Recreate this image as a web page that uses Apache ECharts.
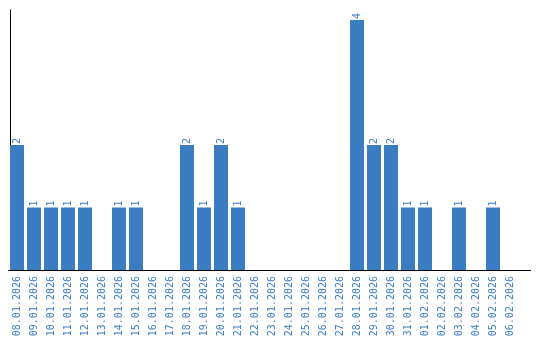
<!DOCTYPE html>
<html>
<head>
<meta charset="utf-8">
<script src="https://cdn.jsdelivr.net/npm/echarts@6/dist/echarts.min.js"></script>
<style>html,body{margin:0;padding:0;background:#fff}#c{width:540px;height:340px}</style>
</head>
<body>
<div id="c"></div>
<script>
var categories = ["08.01.2026","09.01.2026","10.01.2026","11.01.2026","12.01.2026","13.01.2026","14.01.2026","15.01.2026","16.01.2026","17.01.2026","18.01.2026","19.01.2026","20.01.2026","21.01.2026","22.01.2026","23.01.2026","24.01.2026","25.01.2026","26.01.2026","27.01.2026","28.01.2026","29.01.2026","30.01.2026","31.01.2026","01.02.2026","02.02.2026","03.02.2026","04.02.2026","05.02.2026","06.02.2026"];
var values = [2,1,1,1,1,0,1,1,0,0,2,1,2,1,0,0,0,0,0,0,4,2,2,1,1,0,1,0,1,0];

var blue = '#3b7dc2';
var chart = echarts.init(document.getElementById('c'), null, {renderer: 'canvas'});
chart.setOption({
  animation: false,
  grid: {left: 8.5, top: 10, width: 510, height: 260, containLabel: false},
  xAxis: {
    type: 'category',
    data: categories,
    axisLine: {show: true, lineStyle: {color: '#000', width: 1}},
    axisTick: {show: false},
    axisLabel: {rotate: 90, margin: 6, color: blue, fontFamily: 'DejaVu Sans Mono', fontSize: 10, interval: 0}
  },
  yAxis: {
    type: 'value',
    min: 0,
    max: 4.16,
    offset: -1.5,
    axisLine: {show: true, lineStyle: {color: '#000', width: 1}},
    axisTick: {show: false},
    axisLabel: {show: false},
    splitLine: {show: false}
  },
  series: [{
    type: 'bar',
    data: values.map(function(v){ return v === 0 ? null : v; }),
    barWidth: 14,
    itemStyle: {color: blue},
    label: {
      show: true,
      position: 'top',
      rotate: 90,
      align: 'left',
      verticalAlign: 'middle',
      distance: 1,
      color: blue,
      fontFamily: 'DejaVu Sans Mono',
      fontSize: 10
    }
  }],
  graphic: [{
    type: 'line',
    shape: {x1: 518.5, y1: 270.5, x2: 531, y2: 270.5},
    style: {stroke: '#000', lineWidth: 1}
  }]
});
</script>
</body>
</html>
